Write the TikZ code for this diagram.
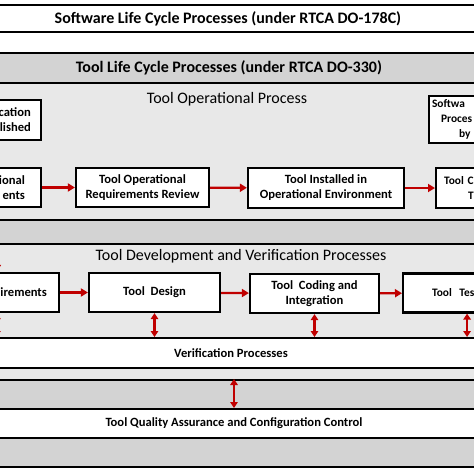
\documentclass[tikz,border=0pt]{standalone}
\usepackage{fontspec}
\setmainfont{Carlito}
\usetikzlibrary{arrows.meta, positioning}

\definecolor{regionfill}{HTML}{E8E8E8}
\definecolor{bandfill}{HTML}{D3D3D3}
\definecolor{flowred}{HTML}{C00000}

\tikzset{
  procbox/.style = {draw, line width=2.2pt, fill=white, inner sep=2pt, align=center,
    font=\bfseries\fontsize{12.6}{15}\selectfont},
  edgebox/.style = {procbox, anchor=west, align=left, font=\bfseries\fontsize{11.4}{15}\selectfont},
  band/.style = {draw, line width=2pt, minimum width=620pt, inner sep=0pt},
  bandtext/.style = {font=\bfseries\fontsize{16}{18}\selectfont},
  smallband/.style = {font=\bfseries\fontsize{12.6}{14}\selectfont},
  regiontext/.style = {font=\fontsize{16}{18}\selectfont},
  flow/.style = {draw=flowred, line width=2.2pt, -{Triangle[length=7pt, width=8pt, fill=flowred]}},
  dflow/.style = {draw=flowred, line width=2.2pt,
    {Triangle[length=6pt, width=7.5pt, fill=flowred]}-{Triangle[length=6pt, width=7.5pt, fill=flowred]}},
}

\begin{document}
\begin{tikzpicture}[x=1pt, y=-1pt]
\useasboundingbox (0,0) rectangle (474,474);
\clip (0,0) rectangle (474,474);

% regions
\draw[line width=2pt, fill=regionfill] (-30,83) rectangle (520,220);
\draw[line width=2pt, fill=regionfill] (-30,244) rectangle (520,338);
\coordinate (devtop) at (0,244);

% bands
\node[band, fill=white, minimum height=27pt, bandtext] (swlc) at (228,18.5) {Software Life Cycle Processes (under RTCA DO-178C)};
\node[band, fill=bandfill, minimum height=30pt, bandtext] (toollc) at (229,68) {Tool Life Cycle Processes (under RTCA DO-330)};
\node[band, fill=bandfill, minimum height=24pt] (midband) at (237,232) {};
\node[band, fill=white, minimum height=30pt, smallband] (ver) at (231,353) {Verification Processes};
\node[band, fill=regionfill, minimum height=12pt] (vergap) at (237,374) {};
\node[band, fill=bandfill, minimum height=29pt] (qagap) at (237,394.5) {};
\node[band, fill=white, minimum height=29pt, smallband] (qa) at (234,423.5) {Tool Quality Assurance and Configuration Control};
\node[band, fill=bandfill, minimum height=29pt] (bottomband) at (237,452.5) {};

% region titles
\node[regiontext] (optitle) at (227,99) {Tool Operational Process};
\node[regiontext] (devtitle) at (241,256) {Tool Development and Verification Processes};

% operational process
\node[procbox, anchor=east, text width=60pt, inner xsep=10pt, align=right, minimum height=40pt] (opneed) at (42,120) {cation\hspace*{3pt}\\lished};
\node[edgebox, text width=80pt, inner xsep=3pt, minimum height=47pt] (swproc) at (428,119.5) {Softwa\\\hspace*{9pt}Proces\\\hspace*{27pt}by};
\node[procbox, anchor=east, text width=60pt, inner xsep=16pt, align=right, minimum height=39pt] (opreq) at (42,187.5) {ional\\ents\hspace*{7pt}};
\node[procbox, minimum width=133pt, minimum height=39pt] (opreview) at (142.5,187.5) {Tool Operational\\Requirements Review};
\node[procbox, minimum width=156pt, minimum height=40pt] (opinst) at (326,188) {Tool Installed in\\Operational Environment};
\node[edgebox, text width=80pt, inner xsep=8pt, minimum height=40pt] (opverif) at (435,188) {Tool C\\\hspace*{24pt}T};

\draw[flow] (opreq) -- (opreview);
\draw[flow] (opreview) -- (opinst);
\draw[flow] (opinst) -- (opverif);

% development and verification
\node[procbox, anchor=east, text width=100pt, inner xsep=12pt, align=right, minimum height=39pt] (toolreq) at (60,292.5) {irements};
\node[procbox, minimum width=131pt, minimum height=39pt] (tooldes) at (154.5,292.5) {Tool~ Design};
\node[procbox, minimum width=129pt, minimum height=39pt] (toolcode) at (314.5,293.5) {Tool~ Coding and\\Integration};
\node[edgebox, text width=70pt, inner xsep=29pt, minimum height=39pt] (tooltest) at (402,293) {Tool~ Tes};

\draw[flow] (toolreq) -- (tooldes);
\draw[flow] (tooldes) -- (toolcode);
\draw[flow] (toolcode) -- (tooltest);
\draw[flow] (toolreq.north |- devtop) -- (toolreq.north);

\foreach \b in {toolreq, tooldes, toolcode, tooltest}
  \draw[dflow] (\b.south) -- (\b.south |- ver.north);
\draw[dflow] (qa.north |- qagap.north) -- (qa.north);
\end{tikzpicture}
\end{document}
